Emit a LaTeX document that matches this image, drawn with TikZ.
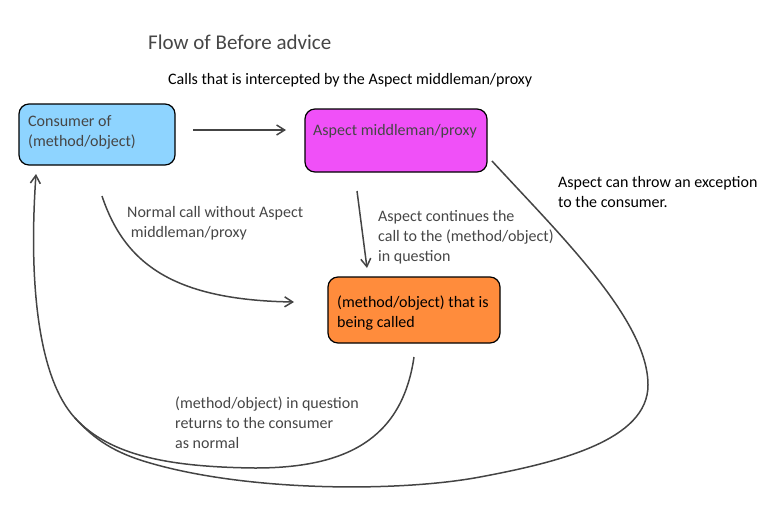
\documentclass[tikz,border=0pt]{standalone}
\usepackage{fontspec}
\setmainfont{Carlito}
\usetikzlibrary{arrows.meta}
\definecolor{cblue}{RGB}{142,212,255}
\definecolor{cmag}{RGB}{240,80,248}
\definecolor{corange}{RGB}{255,140,60}
\definecolor{lgray}{RGB}{68,68,68}
\definecolor{tgray}{RGB}{70,70,70}
\tikzset{
  boxnode/.style={draw=black, line width=1.2pt, rounded corners=10pt, inner sep=0pt},
  conn/.style={draw=lgray, line width=1.5pt, -{Straight Barb[length=8pt,width=10pt,line width=1.5pt]}},
  plain/.style={draw=lgray, line width=1.5pt},
  txt/.style={anchor=base west, inner sep=0pt, font=\fontsize{16}{20}\selectfont, align=left},
}
\begin{document}
\begin{tikzpicture}[x=1pt,y=-1pt]
\useasboundingbox (0,0) rectangle (760,520);
% boxes
\node[boxnode, fill=cblue, minimum width=156pt, minimum height=61pt] (cons) at (97,134.5) {};
\node[boxnode, fill=cmag, minimum width=182pt, minimum height=63pt] (asp) at (396,140.5) {};
\node[boxnode, fill=corange, minimum width=172pt, minimum height=66pt] (called) at (414,310) {};
% box texts (anchor = baseline of last line)
\node[txt, text=tgray] (constxt) at (28,146) {Consumer of\\(method/object)};
\node[txt, text=tgray] (asptxt) at (313,135) {Aspect middleman/proxy};
\node[txt, text=black] (calledtxt) at (337,327) {(method/object) that is\\being called};
% titles
\node[anchor=base west, inner sep=0pt, font=\fontsize{21}{24}\selectfont, text=tgray] (title) at (148,49) {Flow of Before advice};
\node[txt, text=black] (sub) at (168,84) {Calls that is intercepted by the Aspect middleman/proxy};
% labels
\node[txt, text=tgray] (lnormal) at (127,237) {Normal call without Aspect\\\ middleman/proxy};
\node[txt, text=tgray] (lcont) at (378,261) {Aspect continues the\\call to the (method/object)\\in question};
\node[txt, text=tgray] (lret) at (175,448) {(method/object) in question\\returns to the consumer\\as normal};
\node[txt, text=black] (lexc) at (558,207) {Aspect can throw an exception\\to the consumer.};
% connector endpoints
\coordinate (a1s) at (193,130);
\coordinate (a1e) at (286,130);
\coordinate (a2s) at (357,191);
\coordinate (a2e) at (367,268);
\coordinate (a3s) at (102,196);
\coordinate (a3e) at (294,302);
\coordinate (a4s) at (414,357);
\coordinate (a5s) at (492,161);
\coordinate (merge) at (75,418);
\coordinate (cin) at (36,174);
% connectors
\draw[conn] (a1s) -- (a1e);
\draw[conn] (a2s) -- (a2e);
\draw[conn] (a3s) .. controls (125,265) and (175,300) .. (a3e);
% return curve
\draw[conn] (a4s) .. controls (402,440) and (345,468) .. (255,468)
   .. controls (170,467) and (110,456) .. (merge)
   .. controls (40,380) and (28,290) .. (cin);
% exception curve
\draw[plain] (a5s) .. controls (560,235) and (648,320) .. (648,385)
   .. controls (648,440) and (560,462) .. (480,477)
   .. controls (400,492) and (250,492) .. (150,463)
   .. controls (115,453) and (95,440) .. (merge);
\end{tikzpicture}
\end{document}
